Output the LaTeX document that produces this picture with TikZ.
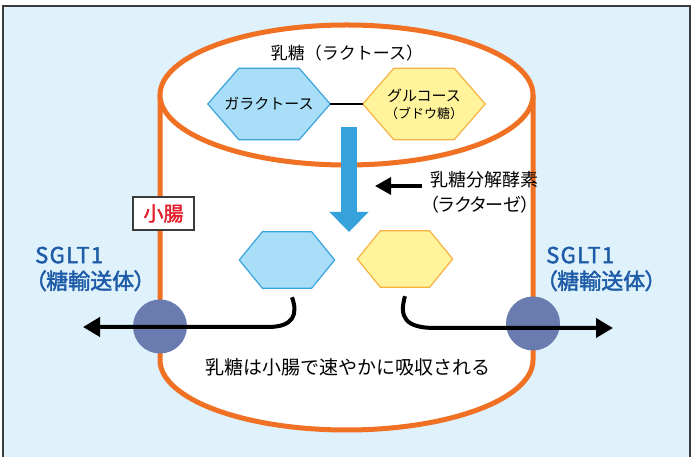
\documentclass[tikz,border=0pt]{standalone}
\usepackage{fontspec}
\setmainfont{Noto Sans CJK JP}
\usepackage{tikz}
\usetikzlibrary{positioning, arrows.meta}

\definecolor{bgblue}{HTML}{DFF1FB}
\definecolor{framegray}{HTML}{3C3C3C}
\definecolor{gutorange}{HTML}{F07024}
\definecolor{galfill}{HTML}{A9DEF9}
\definecolor{galline}{HTML}{3AA3DC}
\definecolor{glufill}{HTML}{FFF49B}
\definecolor{gluline}{HTML}{F7B141}
\definecolor{flowblue}{HTML}{35A2DB}
\definecolor{sgltblue}{HTML}{1E5CA8}
\definecolor{sgltdisc}{HTML}{6A7BB0}
\definecolor{gutred}{HTML}{E5202E}

% hexagon around a (text-less) box node: name, corner inset, style
\newcommand{\hexfill}[3]{%
  \filldraw[line width=1.2pt, #3] (#1.west) -- ([xshift=#2]#1.north west) -- ([xshift=-#2]#1.north east)
    -- (#1.east) -- ([xshift=-#2]#1.south east) -- ([xshift=#2]#1.south west) -- cycle;}
\newcommand{\pfont}{\addfontfeatures{RawFeature=+palt}}

\tikzset{
  gutwall/.style={draw=gutorange, line width=5pt},
  bighex/.style={minimum width=122pt, minimum height=71pt, inner sep=0pt},
  smallhex/.style={minimum width=95pt, minimum height=56pt, inner sep=0pt},
  gal/.style={draw=galline, fill=galfill},
  glu/.style={draw=gluline, fill=glufill},
  absorb/.style={line width=4pt, -{Triangle[length=17pt,width=19pt]}},
  sglt/.style={text=sgltblue, align=left, anchor=west, inner sep=0pt,
    font=\fontsize{22}{26}\selectfont\addfontfeatures{FakeBold=2}},
  transporter/.style={circle, fill=sgltdisc, minimum size=54pt, inner sep=0pt},
}

\begin{document}
\begin{tikzpicture}[x=1pt, y=1pt]
  \useasboundingbox (0,0) rectangle (699,457);
  \fill[bgblue] (3,0) rectangle (690,451);
  \draw[framegray, line width=1.5pt] (3,0) -- (3,451) -- (690,451) -- (690,0);

  % small intestine as a cylinder
  \fill[white] (160,97) rectangle (533,362);
  \fill[white] (346.5,97) ellipse [x radius=186.5, y radius=70];
  \draw[gutwall] (160,362) -- (160,97) arc [start angle=180, end angle=360, x radius=186.5, y radius=70] -- (533,362);
  \draw[gutwall, fill=white] (346.5,362) ellipse [x radius=186.5, y radius=70];

  \node (lactose) at (347,404) {\fontsize{17}{20}\selectfont 乳糖（ラクトース）};

  \node[bighex] (gal) at (269,353) {};
  \node[bighex] (glu) at (424,353) {};
  \hexfill{gal}{31pt}{gal}
  \hexfill{glu}{31pt}{glu}
  \node[font=\fontsize{15}{18}\selectfont] (galtext) at (gal) {ガラクトース};
  \node[align=center, font=\fontsize{15}{19}\selectfont] (glutext) at (glu)
    {グルコース\\[-2pt]{\fontsize{13}{15}\selectfont （ブドウ糖）}};
  \path [draw, line width=2pt] (gal) edge (glu);

  \coordinate (split) at (349,330);
  \coordinate (splitend) at (349,225);
  \draw[flowblue, line width=16pt, -{Triangle[length=20pt,width=38pt]}] (split) -- (splitend);

  \node[anchor=west, inner sep=0pt, align=left, font=\fontsize{18}{25}\selectfont] (enzyme) at (430,265)
    {乳糖分解酵素\\{\pfont （ラクターゼ）}};
  \coordinate (enzymetip) at (375,271);
  \draw[line width=3.3pt, -{Triangle[length=16pt,width=17pt]}] ([xshift=-8pt]enzyme.west |- enzymetip) -- (enzymetip);

  \node[draw=framegray, fill=white, line width=1.2pt, minimum width=61pt, minimum height=33pt, inner sep=0pt,
    text=gutred, font=\fontsize{20}{20}\selectfont\addfontfeatures{FakeBold=2}] (gut) at (163.5,243.5) {小腸};

  \node[smallhex] (galdown) at (287,197) {};
  \node[smallhex] (gludown) at (405,198) {};
  \hexfill{galdown}{23pt}{gal}
  \hexfill{gludown}{23pt}{glu}

  \node[transporter] (discL) at (160,130.5) {};
  \node[transporter] (discR) at (533,133.5) {};

  \coordinate (outL) at (83,130);
  \coordinate (outR) at (613,129);
  \draw[absorb] ([xshift=5pt,yshift=-9pt]galdown.south) .. controls (298,143) and (294,130) .. (268,130) -- (outL);
  \draw[absorb] ([yshift=-9pt]gludown.south) .. controls (399,140) and (405,129) .. (435,129) -- (outR);

  \node[sglt] (sgltL) at (35,188) {{\addfontfeatures{LetterSpace=6}SGLT1}\\{\pfont （糖輸送体）}};
  \node[sglt] (sgltR) at (546,188) {{\addfontfeatures{LetterSpace=6}SGLT1}\\{\pfont （糖輸送体）}};

  \node (absorbed) at (348,90) {\fontsize{19}{22}\selectfont 乳糖は小腸で速やかに吸収される};
\end{tikzpicture}
\end{document}
